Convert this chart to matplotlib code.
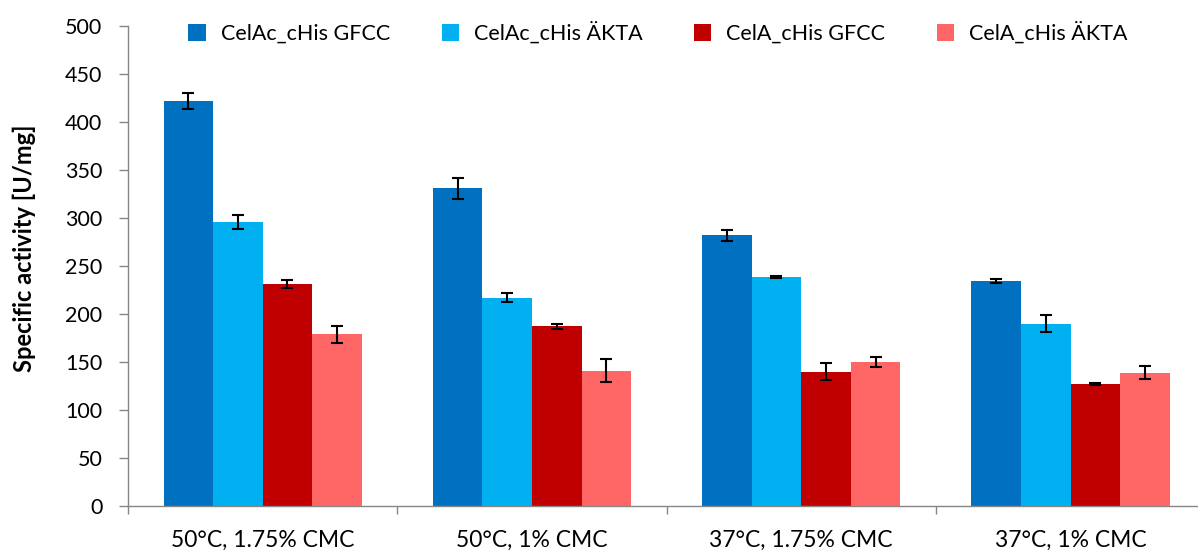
import matplotlib
matplotlib.use("Agg")
import matplotlib.pyplot as plt
from matplotlib.patches import Patch
import numpy as np

plt.rcParams['font.family'] = ['Lato', 'DejaVu Sans']

categories = ["50°C, 1.75% CMC", "50°C, 1% CMC", "37°C, 1.75% CMC", "37°C, 1% CMC"]
series_names = ["CelAc_cHis GFCC", "CelAc_cHis ÄKTA", "CelA_cHis GFCC", "CelA_cHis ÄKTA"]
celac_gfcc = [422, 331, 282, 234]
celac_akta = [296, 217, 239, 190]
cela_gfcc = [231, 187, 140, 127]
cela_akta = [179, 141, 150, 139]
celac_gfcc_err = [8, 11, 6, 2]
celac_akta_err = [7, 5, 1, 9]
cela_gfcc_err = [4, 3, 9, 1]
cela_akta_err = [9, 12, 5, 7]

values = [celac_gfcc, celac_akta, cela_gfcc, cela_akta]
errors = [celac_gfcc_err, celac_akta_err, cela_gfcc_err, cela_akta_err]
colors = ["#0070C0", "#00B0F0", "#C00000", "#FF6666"]

W, H = 1198, 550
fig = plt.figure(figsize=(W / 100, H / 100), dpi=100)
unit = 269.3
ax = fig.add_axes([128 / W, 44 / H, 4 * unit / W, 480 / H])

x = np.arange(len(categories))
bw = 0.184
for i, (vals, errs, c) in enumerate(zip(values, errors, colors)):
    pos = x + (i - 1.5) * bw
    ax.bar(pos, vals, width=bw, color=c, edgecolor='none', zorder=2)
    ax.errorbar(pos, vals, yerr=errs, fmt='none', ecolor='black',
                elinewidth=1.5, capsize=4.5, capthick=1.5, zorder=3)

ax.set_xlim(-0.5, 3.5)
ax.set_ylim(0, 500)
ax.set_yticks(np.arange(0, 501, 50))
ax.set_xticks(x)
ax.set_xticklabels(categories, fontsize=16.5)
ax.set_xticks(np.arange(-0.5, 4.0, 1.0), minor=True)
ax.tick_params(axis='x', which='major', length=0, pad=17)
ax.tick_params(axis='x', which='minor', length=6, width=1, color='#868686', direction='out')
ax.tick_params(axis='y', length=6.5, width=1, color='#868686', direction='out',
               labelsize=15.5, pad=12)

for s in ['top', 'right']:
    ax.spines[s].set_visible(False)
for s in ['left', 'bottom']:
    ax.spines[s].set_color('#868686')
    ax.spines[s].set_linewidth(1)

fig.text(24 / W, (550 - 248) / H, "Specific activity [U/mg]", rotation=90,
         fontsize=17, fontweight='bold', ha='center', va='center')

handles = [Patch(facecolor=c, edgecolor='none') for c in colors]
fig.legend(handles, series_names, loc='center', ncol=4,
           bbox_to_anchor=(658 / W, 1 - 33 / H), frameon=False, fontsize=15.5,
           handlelength=0.8, handleheight=0.8, handletextpad=0.7,
           columnspacing=2.4)

fig.savefig("out.png", dpi=100)
